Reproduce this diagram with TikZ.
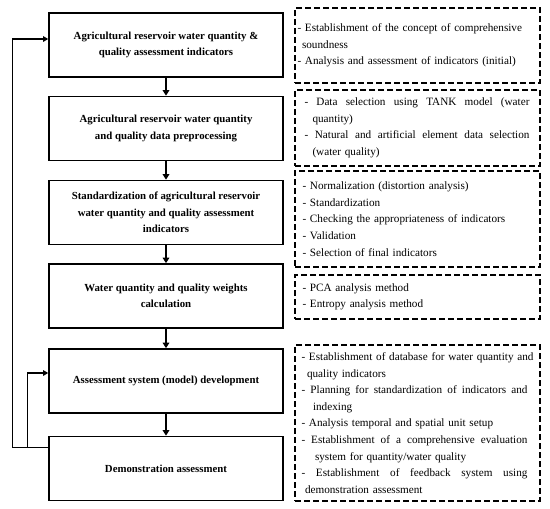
\documentclass[tikz,border=0pt]{standalone}
\usepackage{fontspec}
\setmainfont{Liberation Serif}
\usetikzlibrary{arrows.meta}

\newcommand{\fitline}[2][226pt]{\makebox[#1][s]{\spaceskip=0pt\xspaceskip=0pt #2}}

\tikzset{
  stage/.style={draw, line width=1.6pt, minimum width=234pt, minimum height=64pt,
    align=center, font=\bfseries\fontsize{10.8}{16.5}\selectfont},
  notes/.style={draw, dash pattern=on 6pt off 3pt, line width=1.6pt, minimum width=245pt,
    inner xsep=2.5pt, text width=240pt, align=left, font=\fontsize{11.2}{16.6}\selectfont},
  flow/.style={line width=1.6pt, -{Triangle[width=6.5pt,length=5.5pt]}},
  back/.style={line width=1.1pt, -{Triangle[width=5.5pt,length=5pt]}}
}

\begin{document}
\begin{tikzpicture}[x=1pt, y=-1pt]
  \useasboundingbox (0,0) rectangle (550,509);

  % stages
  \node[stage] (indic) at (166,45) {Agricultural reservoir water quantity \&\\ quality assessment indicators};
  \node[stage] (prep) at (166,128.5) {Agricultural reservoir water quantity\\ and quality data preprocessing};
  \node[stage] (std) at (166,212.5) {Standardization of agricultural reservoir\\ water quantity and quality assessment\\ indicators};
  \node[stage] (wts) at (166,296) {Water quantity and quality weights\\ calculation};
  \node[stage] (model) at (166,381) {Assessment system (model) development};
  \node[stage] (demo) at (166,468.5) {Demonstration assessment};

  % notes on the right
  \node[notes, minimum height=75pt] (n1) at (417.5,45.5) {%
    - Establishment of the concept of comprehensive\\
    \hspace*{4.5pt}soundness\\
    - Analysis and assessment of indicators (initial)};
  \node[notes, minimum height=76pt] (n2) at (417.5,128) {%
    \hspace*{7pt}\fitline[225pt]{- Data selection using TANK model (water}\\
    \hspace*{15pt}quantity)\\
    \hspace*{7pt}\fitline[225pt]{- Natural and artificial element data selection}\\
    \hspace*{15pt}(water quality)};
  \node[notes, minimum height=96pt] (n3) at (417.5,219) {%
    \hspace*{5pt}- Normalization (distortion analysis)\\
    \hspace*{5pt}- Standardization\\
    \hspace*{5pt}- Checking the appropriateness of indicators\\
    \hspace*{5pt}- Validation\\
    \hspace*{5pt}- Selection of final indicators};
  \node[notes, minimum height=44pt] (n4) at (417.5,297) {%
    \hspace*{5pt}- PCA analysis method\\
    \hspace*{5pt}- Entropy analysis method};
  \node[notes, minimum height=156pt] (n5) at (417.5,423) {%
    \hspace*{4pt}- Establishment of database for water quantity and\\
    \hspace*{9.5pt}quality indicators\\
    \hspace*{4pt}\fitline{- Planning for standardization of indicators and}\\
    \hspace*{15.5pt}indexing\\
    \hspace*{4pt}- Analysis temporal and spatial unit setup\\
    \hspace*{4pt}\fitline{- Establishment of a comprehensive evaluation}\\
    \hspace*{17.5pt}system for quantity/water quality\\
    \hspace*{4pt}\fitline{- Establishment of feedback system using}\\
    \hspace*{7.5pt}demonstration assessment};

  % main flow
  \draw[flow] (indic) -- (prep);
  \draw[flow] (prep) -- (std);
  \draw[flow] (std) -- (wts);
  \draw[flow] (wts) -- (model);
  \draw[flow] (model) -- (demo);

  % feedback loops
  \draw[back] ([yshift=21pt]demo.west) -- ++(-36,0) |- ([yshift=6pt]indic.west);
  \draw[back] ([yshift=21pt]demo.west) -- ++(-21,0) |- ([yshift=8pt]model.west);
\end{tikzpicture}
\end{document}
